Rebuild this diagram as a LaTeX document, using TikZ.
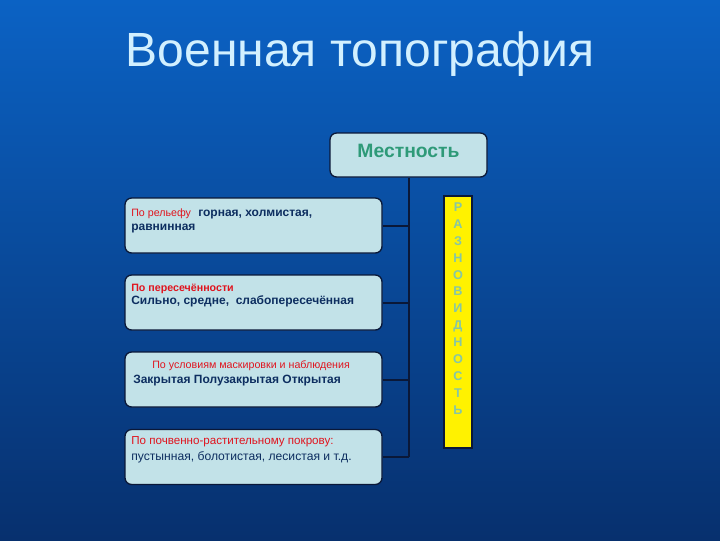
\documentclass[tikz,border=0pt]{standalone}
\usepackage{fontspec}
\setmainfont{Liberation Sans}
\usepackage{tikz}
\definecolor{hgoben}{HTML}{0B62C4}
\definecolor{hgunten}{HTML}{07306E}
\definecolor{kastenfill}{HTML}{C2E2E8}
\definecolor{kastenrand}{HTML}{0A1838}
\definecolor{titelfarbe}{HTML}{D2F0FF}
\definecolor{schriftblau}{HTML}{0D2E60}
\definecolor{schriftrot}{HTML}{E0141E}
\definecolor{gruen}{HTML}{2E9A78}
\definecolor{buchstabe}{HTML}{86C6A6}

\tikzset{
    kasten/.style={draw=kastenrand, fill=kastenfill, line width=1pt, rounded corners=5pt,
        minimum width=192.75pt, minimum height=41.25pt, inner sep=0pt},
    rot/.style={anchor=base west, inner sep=0pt, text=schriftrot, font=\fontsize{8}{9}\selectfont},
    blau/.style={anchor=base west, inner sep=0pt, text=schriftblau, font=\fontsize{9}{10}\selectfont\bfseries},
    linie/.style={draw=kastenrand, line width=1.5pt}
}

\begin{document}
\begin{tikzpicture}[x=0.75pt, y=-0.75pt]
            % Hintergrund.
            \useasboundingbox (0,0) rectangle (720,540);
            \shade[top color=hgoben, bottom color=hgunten] (0,0) rectangle (720,540);

            % Titel.
            \node[anchor=base, inner sep=0pt, text=titelfarbe, font=\fontsize{36}{40}\selectfont] (titel) at (360,66) {Военная топография};

            % Kaesten.
            \node[kasten, minimum width=117.75pt, minimum height=33pt] (mestnost) at (408.5,155) {};
            \node[anchor=base, inner sep=0pt, text=gruen, font=\fontsize{14.5}{16}\selectfont\bfseries] (mestnosttext) at (408.5,157) {Местность};

            \node[kasten] (relief) at (253.5,225.5) {};
            \node[kasten] (peresech) at (253.5,302.5) {};
            \node[kasten] (maskir) at (253.5,379.5) {};
            \node[kasten] (pokrov) at (253.5,457) {};

            % Linien.
            \draw[linie] (mestnost.south) -- (mestnost.south |- pokrov.east);
            \foreach \k in {relief, peresech, maskir, pokrov}
            {
                \draw[linie] (\k.east) -- (\k.east -| mestnost.south);
            }

            % Beschriftung.
            \node[rot] (t1a) at (131,216) {По рельефу};
            \node[blau] (t1b) at (198,216) {горная, холмистая,};
            \node[blau] (t1c) at (131,230) {равнинная};

            \node[rot, font=\fontsize{8}{9}\selectfont\bfseries] (t2a) at (131,291) {По пересечённости};
            \node[blau] (t2b) at (131,304) {Сильно, средне,\ \ слабопересечённая};

            \node[rot] (t3a) at (152,368) {По условиям маскировки и наблюдения};
            \node[blau] (t3b) at (133,383) {Закрытая Полузакрытая Открытая};

            \node[rot, font=\fontsize{8.7}{9}\selectfont] (t4a) at (131,444) {По почвенно-растительному покрову:};
            \node[anchor=base west, inner sep=0pt, text=schriftblau, font=\fontsize{9.1}{10}\selectfont] (t4b) at (131,460) {пустынная, болотистая, лесистая и т.д.};

            % Balken.
            \node[draw=kastenrand, fill=yellow, line width=0.8pt, minimum width=21pt, minimum height=189pt, inner sep=0pt] (balken) at (458,322) {};
            \node[align=center, inner sep=0pt, text=buchstabe, font=\fontsize{9.5}{12.7}\selectfont\bfseries] (raznovid) at (458,308.5)
                {Р\\А\\З\\Н\\О\\В\\И\\Д\\Н\\О\\С\\Т\\Ь};
\end{tikzpicture}
\end{document}
